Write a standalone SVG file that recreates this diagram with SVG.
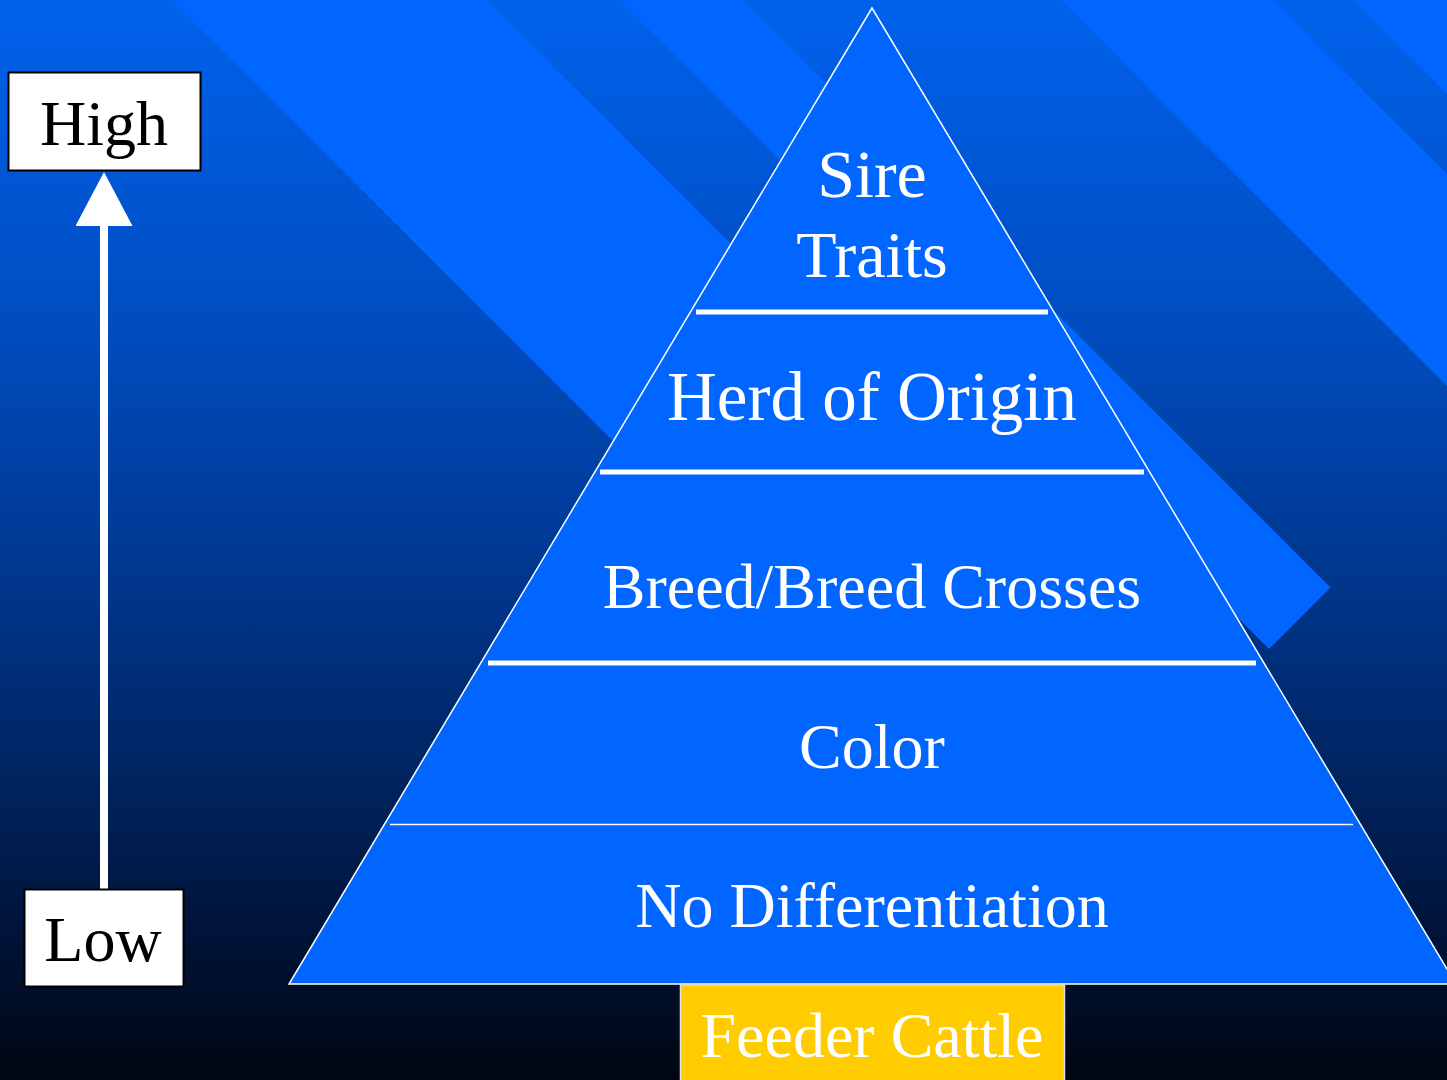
<svg xmlns="http://www.w3.org/2000/svg" width="1447" height="1080" viewBox="0 0 1447 1080">
  <defs>
    <linearGradient id="bg" x1="0" y1="0" x2="0" y2="1">
      <stop offset="0" stop-color="#0062EC"/>
      <stop offset="0.3" stop-color="#004DC0"/>
      <stop offset="0.5" stop-color="#003A96"/>
      <stop offset="0.7" stop-color="#002665"/>
      <stop offset="0.85" stop-color="#00153C"/>
      <stop offset="1" stop-color="#000612"/>
    </linearGradient>
    <marker id="arrowhead" markerUnits="userSpaceOnUse" markerWidth="54" markerHeight="57" viewBox="0 0 54 57" refX="0" refY="28.5" orient="auto">
      <path d="M0,0 L54,28.5 L0,57 Z" fill="#FFFFFF"/>
    </marker>
    <style>
      .band { fill: #0066FF; }
      .label { font-family: "Liberation Serif", "Times New Roman", serif; fill: #FFFFFF; text-anchor: middle; }
      .boxlabel { font-family: "Liberation Serif", "Times New Roman", serif; fill: #000000; text-anchor: middle; font-size: 64px; }
      .thick { stroke: #FFFFFF; stroke-width: 5; }
      .thin { stroke: #FFFFFF; stroke-width: 1.5; }
      .box { fill: #FFFFFF; stroke: #000000; stroke-width: 2; }
    </style>
  </defs>

  <!-- background -->
  <rect x="0" y="0" width="1447" height="1080" fill="url(#bg)"/>
  <g id="stripes">
    <polygon class="band" points="162,-10 477,-10 993,506 836,664"/>
    <polygon class="band" points="610,-10 733,-10 1330.5,587.5 1269,649"/>
    <polygon class="band" points="1051,-10 1263,-10 1460,187 1460,399"/>
    <polygon class="band" points="1343,-10 1460,-10 1460,107"/>
  </g>

  <!-- pyramid shape -->
  <g id="pyramid">
    <polygon points="872,8 289,984 1456,984" fill="#0066FF" stroke="#FFFFFF" stroke-width="1.5" stroke-linejoin="miter"/>
    <line class="thick" x1="696" y1="312" x2="1048" y2="312"/>
    <line class="thick" x1="600" y1="472" x2="1144" y2="472"/>
    <line class="thick" x1="488" y1="663" x2="1256" y2="663"/>
    <line class="thin" x1="390" y1="824.5" x2="1353" y2="824.5"/>
  </g>

  <g id="tier-sire">
    <text class="label" x="872" y="197" font-size="68">Sire</text>
    <text class="label" x="872" y="277" font-size="66">Traits</text>
  </g>
  <g id="tier-herd">
    <text class="label" x="872" y="420" font-size="69">Herd of Origin</text>
  </g>
  <g id="tier-breed">
    <text class="label" x="872" y="608" font-size="64">Breed/Breed Crosses</text>
  </g>
  <g id="tier-color">
    <text class="label" x="872" y="768" font-size="64">Color</text>
  </g>
  <g id="tier-nodiff">
    <text class="label" x="872" y="927" font-size="64">No Differentiation</text>
  </g>

  <g id="feeder-cattle">
    <rect x="680.5" y="985" width="384" height="100" fill="#FFCC00" stroke="#E0E0E0" stroke-width="1.5"/>
    <text class="label" x="872" y="1057" font-size="64">Feeder Cattle</text>
  </g>

  <g id="connectors">
    <line x1="104" y1="889" x2="104" y2="226" stroke="#FFFFFF" stroke-width="8" marker-end="url(#arrowhead)"/>
  </g>

  <g id="high">
    <rect class="box" x="8.5" y="72.5" width="192" height="98"/>
    <text class="boxlabel" x="104" y="145">High</text>
  </g>
  <g id="low">
    <rect class="box" x="24.5" y="889.5" width="159" height="97"/>
    <text class="boxlabel" x="103" y="961">Low</text>
  </g>
</svg>
